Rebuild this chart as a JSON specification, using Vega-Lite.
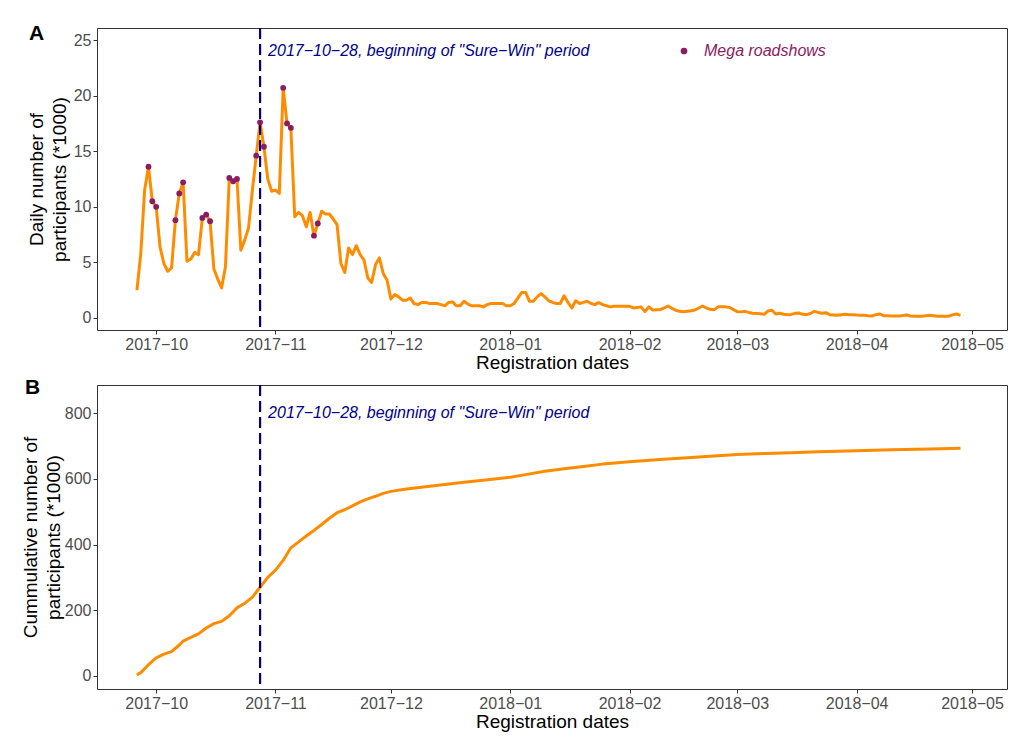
{
  "$schema": "https://vega.github.io/schema/vega-lite/v6.json",
  "background": "white",
  "padding": {"left": 20, "top": 22, "right": 0, "bottom": 0},
  "config": {
    "font": "Liberation Sans",
    "view": {"stroke": "#333333", "strokeWidth": 1},
    "axis": {
      "grid": false, "domain": false,
      "tickColor": "#333333", "tickSize": 4, "tickWidth": 1,
      "labelColor": "#4D4D4D", "labelFontSize": 16, "labelFont": "Liberation Sans", "labelPadding": 2,
      "titleFont": "Liberation Sans", "titleFontSize": 19, "titleFontWeight": "normal", "titleColor": "#000000",
      "titleLineHeight": 23
    },
    "title": {"font": "Liberation Sans", "fontSize": 21, "fontWeight": "bold", "color": "#000000"},
    "concat": {"spacing": 3}
  },
  "datasets": {
    "daily": [
      {"date": "2017-09-26", "value": 2.5, "mega": 0}, {"date": "2017-09-27", "value": 5.8, "mega": 0},
      {"date": "2017-09-28", "value": 11.5, "mega": 0}, {"date": "2017-09-29", "value": 13.6, "mega": 1},
      {"date": "2017-09-30", "value": 10.5, "mega": 1}, {"date": "2017-10-01", "value": 10.0, "mega": 1},
      {"date": "2017-10-02", "value": 6.4, "mega": 0}, {"date": "2017-10-03", "value": 4.9, "mega": 0},
      {"date": "2017-10-04", "value": 4.2, "mega": 0}, {"date": "2017-10-05", "value": 4.5, "mega": 0},
      {"date": "2017-10-06", "value": 8.8, "mega": 1}, {"date": "2017-10-07", "value": 11.2, "mega": 1},
      {"date": "2017-10-08", "value": 12.2, "mega": 1}, {"date": "2017-10-09", "value": 5.1, "mega": 0},
      {"date": "2017-10-10", "value": 5.3, "mega": 0}, {"date": "2017-10-11", "value": 5.9, "mega": 0},
      {"date": "2017-10-12", "value": 5.7, "mega": 0}, {"date": "2017-10-13", "value": 9.0, "mega": 1},
      {"date": "2017-10-14", "value": 9.3, "mega": 1}, {"date": "2017-10-15", "value": 8.7, "mega": 1},
      {"date": "2017-10-16", "value": 4.4, "mega": 0}, {"date": "2017-10-17", "value": 3.5, "mega": 0},
      {"date": "2017-10-18", "value": 2.7, "mega": 0}, {"date": "2017-10-19", "value": 4.6, "mega": 0},
      {"date": "2017-10-20", "value": 12.6, "mega": 1}, {"date": "2017-10-21", "value": 12.3, "mega": 1},
      {"date": "2017-10-22", "value": 12.5, "mega": 1}, {"date": "2017-10-23", "value": 6.1, "mega": 0},
      {"date": "2017-10-24", "value": 7.0, "mega": 0}, {"date": "2017-10-25", "value": 8.1, "mega": 0},
      {"date": "2017-10-26", "value": 11.5, "mega": 0}, {"date": "2017-10-27", "value": 14.6, "mega": 1},
      {"date": "2017-10-28", "value": 17.6, "mega": 1}, {"date": "2017-10-29", "value": 15.4, "mega": 1},
      {"date": "2017-10-30", "value": 12.5, "mega": 0}, {"date": "2017-10-31", "value": 11.4, "mega": 0},
      {"date": "2017-11-01", "value": 11.5, "mega": 0}, {"date": "2017-11-02", "value": 11.2, "mega": 0},
      {"date": "2017-11-03", "value": 20.7, "mega": 1}, {"date": "2017-11-04", "value": 17.5, "mega": 1},
      {"date": "2017-11-05", "value": 17.1, "mega": 1}, {"date": "2017-11-06", "value": 9.1, "mega": 0},
      {"date": "2017-11-07", "value": 9.5, "mega": 0}, {"date": "2017-11-08", "value": 9.2, "mega": 0},
      {"date": "2017-11-09", "value": 8.2, "mega": 0}, {"date": "2017-11-10", "value": 9.5, "mega": 0},
      {"date": "2017-11-11", "value": 7.4, "mega": 1}, {"date": "2017-11-12", "value": 8.5, "mega": 1},
      {"date": "2017-11-13", "value": 9.6, "mega": 0}, {"date": "2017-11-14", "value": 9.35, "mega": 0},
      {"date": "2017-11-15", "value": 9.35, "mega": 0}, {"date": "2017-11-16", "value": 8.9, "mega": 0},
      {"date": "2017-11-17", "value": 8.4, "mega": 0}, {"date": "2017-11-18", "value": 4.9, "mega": 0},
      {"date": "2017-11-19", "value": 4.1, "mega": 0}, {"date": "2017-11-20", "value": 6.3, "mega": 0},
      {"date": "2017-11-21", "value": 5.7, "mega": 0}, {"date": "2017-11-22", "value": 6.5, "mega": 0},
      {"date": "2017-11-23", "value": 5.7, "mega": 0}, {"date": "2017-11-24", "value": 5.2, "mega": 0},
      {"date": "2017-11-25", "value": 3.6, "mega": 0}, {"date": "2017-11-26", "value": 3.2, "mega": 0},
      {"date": "2017-11-27", "value": 4.8, "mega": 0}, {"date": "2017-11-28", "value": 5.4, "mega": 0},
      {"date": "2017-11-29", "value": 4.0, "mega": 0}, {"date": "2017-11-30", "value": 3.4, "mega": 0},
      {"date": "2017-12-01", "value": 1.7, "mega": 0}, {"date": "2017-12-02", "value": 2.1, "mega": 0},
      {"date": "2017-12-03", "value": 1.9, "mega": 0}, {"date": "2017-12-04", "value": 1.6, "mega": 0},
      {"date": "2017-12-05", "value": 1.6, "mega": 0}, {"date": "2017-12-06", "value": 1.8, "mega": 0},
      {"date": "2017-12-07", "value": 1.3, "mega": 0}, {"date": "2017-12-08", "value": 1.2, "mega": 0},
      {"date": "2017-12-09", "value": 1.4, "mega": 0}, {"date": "2017-12-10", "value": 1.4, "mega": 0},
      {"date": "2017-12-11", "value": 1.3, "mega": 0}, {"date": "2017-12-12", "value": 1.3, "mega": 0},
      {"date": "2017-12-13", "value": 1.3, "mega": 0}, {"date": "2017-12-14", "value": 1.2, "mega": 0},
      {"date": "2017-12-15", "value": 1.1, "mega": 0}, {"date": "2017-12-16", "value": 1.4, "mega": 0},
      {"date": "2017-12-17", "value": 1.45, "mega": 0}, {"date": "2017-12-18", "value": 1.1, "mega": 0},
      {"date": "2017-12-19", "value": 1.1, "mega": 0}, {"date": "2017-12-20", "value": 1.5, "mega": 0},
      {"date": "2017-12-21", "value": 1.25, "mega": 0}, {"date": "2017-12-22", "value": 1.1, "mega": 0},
      {"date": "2017-12-23", "value": 1.1, "mega": 0}, {"date": "2017-12-24", "value": 1.1, "mega": 0},
      {"date": "2017-12-25", "value": 1.0, "mega": 0}, {"date": "2017-12-26", "value": 1.2, "mega": 0},
      {"date": "2017-12-27", "value": 1.3, "mega": 0}, {"date": "2017-12-28", "value": 1.3, "mega": 0},
      {"date": "2017-12-29", "value": 1.3, "mega": 0}, {"date": "2017-12-30", "value": 1.3, "mega": 0},
      {"date": "2017-12-31", "value": 1.1, "mega": 0}, {"date": "2018-01-01", "value": 1.1, "mega": 0},
      {"date": "2018-01-02", "value": 1.3, "mega": 0}, {"date": "2018-01-03", "value": 1.8, "mega": 0},
      {"date": "2018-01-04", "value": 2.3, "mega": 0}, {"date": "2018-01-05", "value": 2.3, "mega": 0},
      {"date": "2018-01-06", "value": 1.5, "mega": 0}, {"date": "2018-01-07", "value": 1.5, "mega": 0},
      {"date": "2018-01-08", "value": 1.9, "mega": 0}, {"date": "2018-01-09", "value": 2.2, "mega": 0},
      {"date": "2018-01-10", "value": 1.9, "mega": 0}, {"date": "2018-01-11", "value": 1.55, "mega": 0},
      {"date": "2018-01-12", "value": 1.4, "mega": 0}, {"date": "2018-01-13", "value": 1.3, "mega": 0},
      {"date": "2018-01-14", "value": 1.3, "mega": 0}, {"date": "2018-01-15", "value": 2.0, "mega": 0},
      {"date": "2018-01-16", "value": 1.4, "mega": 0}, {"date": "2018-01-17", "value": 0.9, "mega": 0},
      {"date": "2018-01-18", "value": 1.55, "mega": 0}, {"date": "2018-01-19", "value": 1.3, "mega": 0},
      {"date": "2018-01-20", "value": 1.4, "mega": 0}, {"date": "2018-01-21", "value": 1.5, "mega": 0},
      {"date": "2018-01-22", "value": 1.3, "mega": 0}, {"date": "2018-01-23", "value": 1.2, "mega": 0},
      {"date": "2018-01-24", "value": 1.4, "mega": 0}, {"date": "2018-01-25", "value": 1.2, "mega": 0},
      {"date": "2018-01-26", "value": 1.1, "mega": 0}, {"date": "2018-01-27", "value": 1.0, "mega": 0},
      {"date": "2018-01-28", "value": 1.05, "mega": 0}, {"date": "2018-01-29", "value": 1.05, "mega": 0},
      {"date": "2018-01-30", "value": 1.05, "mega": 0}, {"date": "2018-01-31", "value": 1.05, "mega": 0},
      {"date": "2018-02-01", "value": 1.05, "mega": 0}, {"date": "2018-02-02", "value": 0.9, "mega": 0},
      {"date": "2018-02-03", "value": 0.95, "mega": 0}, {"date": "2018-02-04", "value": 1.0, "mega": 0},
      {"date": "2018-02-05", "value": 0.57, "mega": 0}, {"date": "2018-02-06", "value": 1.0, "mega": 0},
      {"date": "2018-02-07", "value": 0.72, "mega": 0}, {"date": "2018-02-08", "value": 0.75, "mega": 0},
      {"date": "2018-02-09", "value": 0.75, "mega": 0}, {"date": "2018-02-10", "value": 0.9, "mega": 0},
      {"date": "2018-02-11", "value": 1.08, "mega": 0}, {"date": "2018-02-12", "value": 0.87, "mega": 0},
      {"date": "2018-02-13", "value": 0.7, "mega": 0}, {"date": "2018-02-14", "value": 0.6, "mega": 0},
      {"date": "2018-02-15", "value": 0.57, "mega": 0}, {"date": "2018-02-16", "value": 0.6, "mega": 0},
      {"date": "2018-02-17", "value": 0.65, "mega": 0}, {"date": "2018-02-18", "value": 0.72, "mega": 0},
      {"date": "2018-02-19", "value": 0.9, "mega": 0}, {"date": "2018-02-20", "value": 1.08, "mega": 0},
      {"date": "2018-02-21", "value": 0.9, "mega": 0}, {"date": "2018-02-22", "value": 0.78, "mega": 0},
      {"date": "2018-02-23", "value": 0.75, "mega": 0}, {"date": "2018-02-24", "value": 1.0, "mega": 0},
      {"date": "2018-02-25", "value": 1.0, "mega": 0}, {"date": "2018-02-26", "value": 1.0, "mega": 0},
      {"date": "2018-02-27", "value": 0.95, "mega": 0}, {"date": "2018-02-28", "value": 0.75, "mega": 0},
      {"date": "2018-03-01", "value": 0.57, "mega": 0}, {"date": "2018-03-02", "value": 0.55, "mega": 0},
      {"date": "2018-03-03", "value": 0.6, "mega": 0}, {"date": "2018-03-04", "value": 0.5, "mega": 0},
      {"date": "2018-03-05", "value": 0.42, "mega": 0}, {"date": "2018-03-06", "value": 0.4, "mega": 0},
      {"date": "2018-03-07", "value": 0.38, "mega": 0}, {"date": "2018-03-08", "value": 0.33, "mega": 0},
      {"date": "2018-03-09", "value": 0.63, "mega": 0}, {"date": "2018-03-10", "value": 0.7, "mega": 0},
      {"date": "2018-03-11", "value": 0.36, "mega": 0}, {"date": "2018-03-12", "value": 0.42, "mega": 0},
      {"date": "2018-03-13", "value": 0.33, "mega": 0}, {"date": "2018-03-14", "value": 0.3, "mega": 0},
      {"date": "2018-03-15", "value": 0.32, "mega": 0}, {"date": "2018-03-16", "value": 0.42, "mega": 0},
      {"date": "2018-03-17", "value": 0.45, "mega": 0}, {"date": "2018-03-18", "value": 0.33, "mega": 0},
      {"date": "2018-03-19", "value": 0.3, "mega": 0}, {"date": "2018-03-20", "value": 0.4, "mega": 0},
      {"date": "2018-03-21", "value": 0.6, "mega": 0}, {"date": "2018-03-22", "value": 0.5, "mega": 0},
      {"date": "2018-03-23", "value": 0.42, "mega": 0}, {"date": "2018-03-24", "value": 0.48, "mega": 0},
      {"date": "2018-03-25", "value": 0.3, "mega": 0}, {"date": "2018-03-26", "value": 0.27, "mega": 0},
      {"date": "2018-03-27", "value": 0.24, "mega": 0}, {"date": "2018-03-28", "value": 0.3, "mega": 0},
      {"date": "2018-03-29", "value": 0.33, "mega": 0}, {"date": "2018-03-30", "value": 0.3, "mega": 0},
      {"date": "2018-03-31", "value": 0.3, "mega": 0}, {"date": "2018-04-01", "value": 0.27, "mega": 0},
      {"date": "2018-04-02", "value": 0.25, "mega": 0}, {"date": "2018-04-03", "value": 0.24, "mega": 0},
      {"date": "2018-04-04", "value": 0.2, "mega": 0}, {"date": "2018-04-05", "value": 0.18, "mega": 0},
      {"date": "2018-04-06", "value": 0.3, "mega": 0}, {"date": "2018-04-07", "value": 0.36, "mega": 0},
      {"date": "2018-04-08", "value": 0.21, "mega": 0}, {"date": "2018-04-09", "value": 0.2, "mega": 0},
      {"date": "2018-04-10", "value": 0.18, "mega": 0}, {"date": "2018-04-11", "value": 0.18, "mega": 0},
      {"date": "2018-04-12", "value": 0.18, "mega": 0}, {"date": "2018-04-13", "value": 0.22, "mega": 0},
      {"date": "2018-04-14", "value": 0.27, "mega": 0}, {"date": "2018-04-15", "value": 0.18, "mega": 0},
      {"date": "2018-04-16", "value": 0.15, "mega": 0}, {"date": "2018-04-17", "value": 0.15, "mega": 0},
      {"date": "2018-04-18", "value": 0.15, "mega": 0}, {"date": "2018-04-19", "value": 0.2, "mega": 0},
      {"date": "2018-04-20", "value": 0.24, "mega": 0}, {"date": "2018-04-21", "value": 0.2, "mega": 0},
      {"date": "2018-04-22", "value": 0.15, "mega": 0}, {"date": "2018-04-23", "value": 0.15, "mega": 0},
      {"date": "2018-04-24", "value": 0.15, "mega": 0}, {"date": "2018-04-25", "value": 0.16, "mega": 0},
      {"date": "2018-04-26", "value": 0.3, "mega": 0}, {"date": "2018-04-27", "value": 0.36, "mega": 0},
      {"date": "2018-04-28", "value": 0.24, "mega": 0}
    ],
    "cumulative": [
      {"date": "2017-09-26", "value": 3}, {"date": "2017-09-27", "value": 10}, {"date": "2017-09-29", "value": 34},
      {"date": "2017-10-01", "value": 55}, {"date": "2017-10-03", "value": 66}, {"date": "2017-10-05", "value": 74},
      {"date": "2017-10-07", "value": 94}, {"date": "2017-10-08", "value": 106}, {"date": "2017-10-10", "value": 117},
      {"date": "2017-10-12", "value": 128}, {"date": "2017-10-14", "value": 146}, {"date": "2017-10-16", "value": 159},
      {"date": "2017-10-18", "value": 166}, {"date": "2017-10-20", "value": 183}, {"date": "2017-10-22", "value": 207},
      {"date": "2017-10-24", "value": 221}, {"date": "2017-10-26", "value": 240}, {"date": "2017-10-28", "value": 270},
      {"date": "2017-10-30", "value": 300}, {"date": "2017-11-01", "value": 322}, {"date": "2017-11-03", "value": 352},
      {"date": "2017-11-05", "value": 390}, {"date": "2017-11-07", "value": 408}, {"date": "2017-11-09", "value": 426},
      {"date": "2017-11-11", "value": 443}, {"date": "2017-11-13", "value": 461}, {"date": "2017-11-15", "value": 480},
      {"date": "2017-11-17", "value": 497}, {"date": "2017-11-19", "value": 506}, {"date": "2017-11-21", "value": 518},
      {"date": "2017-11-23", "value": 530}, {"date": "2017-11-25", "value": 539}, {"date": "2017-11-27", "value": 547},
      {"date": "2017-11-29", "value": 556}, {"date": "2017-12-01", "value": 562}, {"date": "2017-12-05", "value": 569},
      {"date": "2017-12-10", "value": 576}, {"date": "2017-12-15", "value": 583}, {"date": "2017-12-20", "value": 590},
      {"date": "2017-12-25", "value": 596}, {"date": "2018-01-01", "value": 605}, {"date": "2018-01-05", "value": 613},
      {"date": "2018-01-10", "value": 623}, {"date": "2018-01-15", "value": 631}, {"date": "2018-01-20", "value": 638},
      {"date": "2018-01-25", "value": 645}, {"date": "2018-02-01", "value": 652}, {"date": "2018-02-08", "value": 658},
      {"date": "2018-02-15", "value": 664}, {"date": "2018-02-22", "value": 669}, {"date": "2018-03-01", "value": 674},
      {"date": "2018-03-08", "value": 677}, {"date": "2018-03-15", "value": 680}, {"date": "2018-03-22", "value": 683},
      {"date": "2018-04-01", "value": 686}, {"date": "2018-04-10", "value": 689}, {"date": "2018-04-20", "value": 691},
      {"date": "2018-04-28", "value": 693}
    ],
    "events": [
      {"date": "2017-10-28", "label": "2017−10−28, beginning of \"Sure−Win\" period"}
    ]
  },
  "vconcat": [
    {
      "width": 910,
      "height": 302,
      "title": {"text": "A", "anchor": "start", "frame": "group", "offset": 0, "dx": -68, "dy": 17},
      "layer": [
        {
          "data": {"name": "daily"},
          "mark": {"type": "line", "color": "#FF8C00", "strokeWidth": 3, "strokeJoin": "round"},
          "encoding": {
            "x": {
              "field": "date", "type": "temporal", "title": "Registration dates",
              "scale": {"type": "utc", "domain": [
                {"year": 2017, "month": 9, "date": 15, "hours": 15, "utc": true},
                {"year": 2018, "month": 5, "date": 10, "hours": 2, "utc": true}]},
              "axis": {
                "format": "%Y−%m", "titlePadding": 1,
                "values": [
                  {"year": 2017, "month": 10, "date": 1, "utc": true},
                  {"year": 2017, "month": 11, "date": 1, "utc": true},
                  {"year": 2017, "month": 12, "date": 1, "utc": true},
                  {"year": 2018, "month": 1, "date": 1, "utc": true},
                  {"year": 2018, "month": 2, "date": 1, "utc": true},
                  {"year": 2018, "month": 3, "date": 1, "utc": true},
                  {"year": 2018, "month": 4, "date": 1, "utc": true},
                  {"year": 2018, "month": 5, "date": 1, "utc": true}]
              }
            },
            "y": {
              "field": "value", "type": "quantitative",
              "title": ["Daily number of", "participants (*1000)"],
              "scale": {"domain": [-1.08, 26.08], "nice": false, "zero": false},
              "axis": {"values": [0, 5, 10, 15, 20, 25], "titlePadding": 4}
            }
          }
        },
        {
          "data": {"name": "events"},
          "mark": {"type": "rule", "color": "#00008B", "strokeWidth": 2.2, "strokeDash": [11, 5]},
          "encoding": {"x": {"field": "date", "type": "temporal"}}
        },
        {
          "data": {"name": "daily"},
          "transform": [{"filter": "datum.mega == 1"}],
          "mark": {"type": "point", "filled": true, "size": 34, "opacity": 1},
          "encoding": {
            "x": {"field": "date", "type": "temporal"},
            "y": {"field": "value", "type": "quantitative"},
            "color": {
              "datum": "Mega roadshows",
              "scale": {"range": ["#8B1C62"]},
              "legend": {
                "orient": "none", "legendX": 579, "legendY": 15, "title": null,
                "labelFontSize": 16, "labelFontStyle": "italic", "labelColor": "#8B1C62",
                "labelFont": "Liberation Sans", "labelOffset": 12,
                "symbolType": "circle", "symbolSize": 45, "symbolStrokeWidth": 0
              }
            }
          }
        },
        {
          "data": {"name": "events"},
          "mark": {"type": "text", "align": "left", "baseline": "middle", "dx": 8, "fontSize": 16, "fontStyle": "italic", "color": "#00008B"},
          "encoding": {
            "x": {"field": "date", "type": "temporal"},
            "y": {"datum": 24},
            "text": {"field": "label"}
          }
        }
      ]
    },
    {
      "width": 910,
      "height": 304,
      "title": {"text": "B", "anchor": "start", "frame": "group", "offset": 0, "dx": -72, "dy": 14},
      "layer": [
        {
          "data": {"name": "cumulative"},
          "mark": {"type": "line", "color": "#FF8C00", "strokeWidth": 3, "strokeJoin": "round"},
          "encoding": {
            "x": {
              "field": "date", "type": "temporal", "title": "Registration dates",
              "scale": {"type": "utc", "domain": [
                {"year": 2017, "month": 9, "date": 15, "hours": 15, "utc": true},
                {"year": 2018, "month": 5, "date": 10, "hours": 2, "utc": true}]},
              "axis": {
                "format": "%Y−%m", "titlePadding": 1,
                "values": [
                  {"year": 2017, "month": 10, "date": 1, "utc": true},
                  {"year": 2017, "month": 11, "date": 1, "utc": true},
                  {"year": 2017, "month": 12, "date": 1, "utc": true},
                  {"year": 2018, "month": 1, "date": 1, "utc": true},
                  {"year": 2018, "month": 2, "date": 1, "utc": true},
                  {"year": 2018, "month": 3, "date": 1, "utc": true},
                  {"year": 2018, "month": 4, "date": 1, "utc": true},
                  {"year": 2018, "month": 5, "date": 1, "utc": true}]
              }
            },
            "y": {
              "field": "value", "type": "quantitative",
              "title": ["Cummulative number of", "participants (*1000)"],
              "scale": {"domain": [-40, 886], "nice": false, "zero": false},
              "axis": {"values": [0, 200, 400, 600, 800], "titlePadding": 1}
            }
          }
        },
        {
          "data": {"name": "events"},
          "mark": {"type": "rule", "color": "#00008B", "strokeWidth": 2.2, "strokeDash": [11, 5]},
          "encoding": {"x": {"field": "date", "type": "temporal"}}
        },
        {
          "data": {"name": "events"},
          "mark": {"type": "text", "align": "left", "baseline": "middle", "dx": 8, "fontSize": 16, "fontStyle": "italic", "color": "#00008B"},
          "encoding": {
            "x": {"field": "date", "type": "temporal"},
            "y": {"datum": 800},
            "text": {"field": "label"}
          }
        }
      ]
    }
  ]
}
